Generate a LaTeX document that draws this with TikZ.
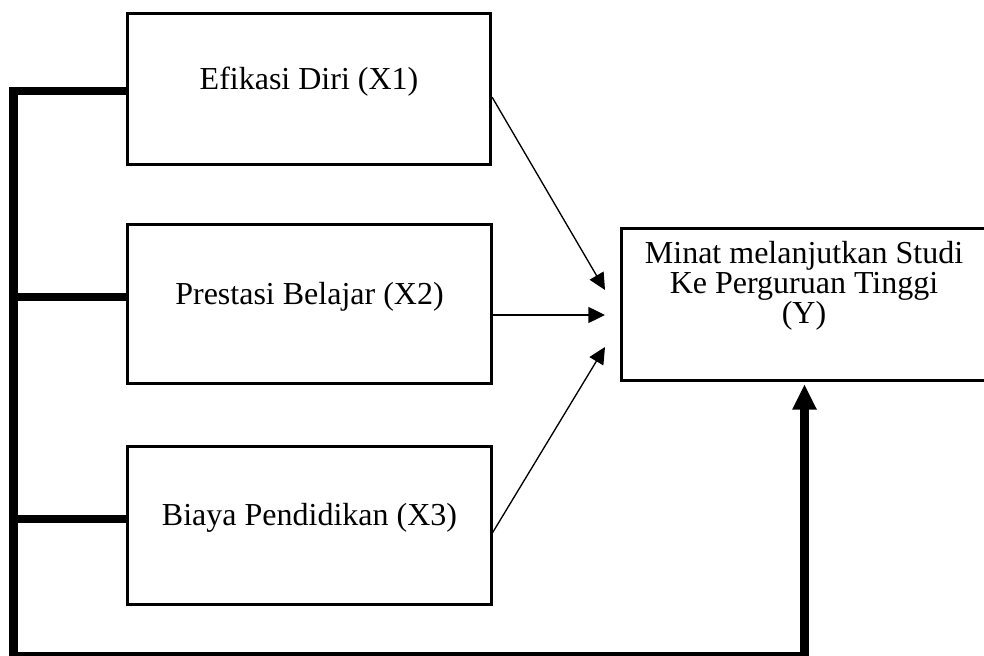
\documentclass[tikz,border=0pt]{standalone}
\usepackage{fontspec}
\setmainfont{Liberation Serif}
\usetikzlibrary{arrows.meta,calc}
\begin{document}
\begin{tikzpicture}[x=0.75pt,y=-0.75pt,
  xbox/.style={draw, line width=2.25pt, minimum width=272.5pt, inner sep=0pt,
    font=\fontsize{24}{22.5}\selectfont, text height=8pt, text depth=8pt},
  ybox/.style={draw, line width=2.25pt, minimum width=275pt, minimum height=113.5pt, inner sep=0pt},
  ytext/.style={align=center, font=\fontsize{24}{22.5}\selectfont, inner sep=0pt},
  thinarrow/.style={line width=1pt, -{Triangle[length=12.5pt,width=12pt]}},
  spine/.style={line width=6.2pt},
  branch/.style={line width=5.4pt},
]
\useasboundingbox (0,0) rectangle (984,656);

\node[xbox, minimum height=113.6pt] (X1) at (309,89.25) {Efikasi Diri (X1)};
\node[xbox, minimum height=119.25pt] (X2) at (309.5,304) {Prestasi Belajar (X2)};
\node[xbox, minimum height=118.5pt] (X3) at (309.5,525.5) {Biaya Pendidikan (X3)};
\node[ybox] (Y) at (804.5,304.5) {};
\node[ytext] (Yt) at (804,286) {Minat melanjutkan Studi\\Ke Perguruan Tinggi\\(Y)};

\coordinate (t1) at (605,290);
\coordinate (t2) at (605,315);
\coordinate (t3) at (605,347);
\coordinate (sp) at (13.5,656.5);
\coordinate (sl) at (9,0);
\coordinate (b2) at ($(X2.west)+(0,-7)$);
\coordinate (b3) at ($(X3.west)+(0,-6.5)$);

\draw[thinarrow] ($(X1.east)+(0,8)$) -- (t1);
\draw[thinarrow] ($(X2.east)+(0,11)$) -- (t2);
\draw[thinarrow] ($(X3.east)+(0,7)$) -- (t3);

\draw[spine, -{Triangle[length=19pt,width=17pt]}]
  ($(X1.west)+(0,1.5)$) -| (sp) -| ($(Y.south)+(0,2.5)$);
\draw[branch] (b2) -- (b2 -| sl);
\draw[branch] (b3) -- (b3 -| sl);
\end{tikzpicture}
\end{document}
